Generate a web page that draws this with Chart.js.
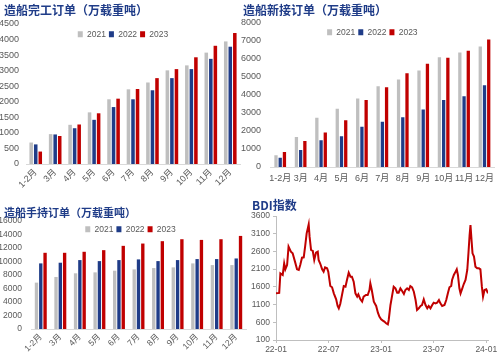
<!DOCTYPE html>
<html>
<head>
<meta charset="utf-8">
<script src="https://cdn.jsdelivr.net/npm/chart.js@4/dist/chart.umd.min.js"></script>
<style>
html,body{margin:0;padding:0;background:#fff;overflow:hidden;width:500px;height:356px;}
.box{position:absolute;}
.ttl{position:absolute;z-index:5;color:#1F3C88;font-family:"Noto Sans CJK SC",sans-serif;font-weight:700;white-space:nowrap;line-height:16px;}
</style>
</head>
<body>
<div class="ttl" style="left:4px;top:2px;font-size:12px;">造船完工订单（万载重吨）</div>
<div class="ttl" style="left:243px;top:2px;font-size:12px;">造船新接订单（万载重吨）</div>
<div class="ttl" style="left:4px;top:204px;font-size:11px;">造船手持订单（万载重吨）</div>
<div class="ttl" style="left:252px;top:197px;font-size:12px;">BDI指数</div>

<div class="box" style="left:0;top:0;width:250px;height:200px;"><canvas id="c1"></canvas></div>
<div class="box" style="left:236px;top:0;width:264px;height:200px;"><canvas id="c2"></canvas></div>
<div class="box" style="left:0;top:180px;width:250px;height:176px;"><canvas id="c3"></canvas></div>
<div class="box" style="left:250px;top:180px;width:250px;height:176px;"><canvas id="c4"></canvas></div>

<script>
// ---- data ----
const months = ['1-2月','3月','4月','5月','6月','7月','8月','9月','10月','11月','12月'];
const years = ['2021','2022','2023'];

const done2021 = [690, 960, 1260, 1660, 2080, 2400, 2620, 3010, 3170, 3580, 3940];
const done2022 = [630, 950, 1150, 1420, 1830, 2080, 2370, 2760, 3050, 3380, 3770];
const done2023 = [400, 900, 1270, 1630, 2100, 2410, 2760, 3050, 3430, 3800, 4210];

const new2021 = [650, 1660, 2740, 3240, 3800, 4480, 4860, 5360, 6100, 6360, 6700];
const new2022 = [520, 950, 1490, 1710, 2230, 2510, 2770, 3200, 3720, 3930, 4540];
const new2023 = [840, 1450, 1920, 2600, 3720, 4430, 5210, 5730, 6070, 6460, 7090];

const hold2021 = [6870, 7710, 8250, 8390, 8640, 8830, 9030, 9130, 9720, 9470, 9470];
const hold2022 = [9720, 9820, 10210, 10060, 10210, 10310, 10060, 10210, 10360, 10360, 10450];
const hold2023 = [11290, 11290, 11440, 11680, 12320, 12660, 13010, 13300, 13200, 13300, 13790];

const bdiDates = [
'2022-01-01','2022-01-12','2022-01-16','2022-01-24','2022-01-29','2022-02-03','2022-02-09','2022-02-14','2022-02-22','2022-02-28',
'2022-03-06','2022-03-13','2022-03-19','2022-03-24','2022-03-30','2022-04-06','2022-04-11','2022-04-16','2022-04-20','2022-04-23',
'2022-04-26','2022-05-01','2022-05-07','2022-05-12','2022-05-18','2022-05-24','2022-05-27','2022-06-03','2022-06-09','2022-06-14',
'2022-06-19','2022-06-26','2022-06-30','2022-07-07','2022-07-13','2022-07-19','2022-07-27','2022-08-02','2022-08-06','2022-08-11',
'2022-08-17','2022-08-23','2022-08-29','2022-09-04','2022-09-10','2022-09-16','2022-09-21','2022-09-27','2022-10-03','2022-10-09',
'2022-10-13','2022-10-20','2022-10-26','2022-11-01','2022-11-09','2022-11-15','2022-11-21','2022-11-24','2022-11-29','2022-12-06',
'2022-12-14','2022-12-20','2022-12-25','2023-01-01','2023-01-07','2023-01-12','2023-01-18','2023-01-24','2023-01-27','2023-02-03',
'2023-02-07','2023-02-14','2023-02-20','2023-02-26','2023-03-01','2023-03-07','2023-03-13','2023-03-19','2023-03-24','2023-03-30',
'2023-04-06','2023-04-11','2023-04-17','2023-04-23','2023-04-29','2023-05-04','2023-05-10','2023-05-16','2023-05-21','2023-05-27',
'2023-06-03','2023-06-09','2023-06-14','2023-06-20','2023-06-26','2023-07-01','2023-07-07','2023-07-13','2023-07-19','2023-07-24',
'2023-07-30','2023-08-08','2023-08-14','2023-08-20','2023-08-25','2023-09-01','2023-09-04','2023-09-10','2023-09-16','2023-09-20',
'2023-09-24','2023-09-29','2023-10-03','2023-10-09','2023-10-14','2023-10-20','2023-10-26','2023-10-30','2023-11-04','2023-11-07',
'2023-11-11','2023-11-14','2023-11-19','2023-11-24','2023-11-30','2023-12-06','2023-12-11','2023-12-16','2023-12-20','2023-12-25',
'2024-01-01','2024-01-07'];
const bdiValues = [
1417,1430,1980,1935,2260,2095,2217,2735,2594,2547,
2312,2095,2076,2217,2424,2433,2754,3111,3253,3365,
3017,2641,2613,2358,2566,2594,2358,2245,2095,2029,
2151,2123,2029,1624,1587,1417,1248,1060,994,1116,
1370,1624,1605,1794,2001,1888,1888,1747,1417,1323,
1389,1248,1182,1323,1370,1370,1511,1700,1511,1182,
1060,872,759,684,646,618,571,542,665,1088,
1276,1605,1558,1436,1436,1558,1483,1398,1511,1558,
1511,1624,1587,1464,1229,947,994,1060,1088,1248,
1088,994,1060,994,1088,1154,1135,1154,1229,1135,
1060,1088,1229,1436,1587,1624,1794,1935,2029,2095,
1935,1558,1417,1558,1680,1794,2076,2547,3064,3347,
2876,2547,2453,2170,2123,2123,2095,1605,1323,1511,
1530,1417];
const bdiTicks = [0, 6, 12, 18, 24];

// ---- styles ----
const FONT = '"Liberation Sans","Noto Sans CJK SC",sans-serif';
const TICK = '#595959';
const GRAY = '#BFBFBF', BLUE = '#1F3C88', RED = '#C00000';

// legend drawn inside the chart area, laid out horizontally
if (Chart.Legend && Chart.Legend._element) {
  const LP = Chart.Legend._element.prototype;
  const orig = LP.isHorizontal;
  LP.isHorizontal = function(){ return this.options.position === 'chartArea' ? true : orig.call(this); };
}
const legendShift = {
  id:'legendShift',
  afterLayout(chart, args, opts){
    const lg = chart.legend;
    if (!lg || !lg.options || lg.options.position !== 'chartArea') return;
    const dx = chart.chartArea.left + (opts.dx || 0);
    lg.left += dx; lg.right += dx;
    lg.top += (opts.dy || 0); lg.bottom += (opts.dy || 0);
  }
};

function monthOffset(s){
  const [y,m,d] = s.split('-').map(Number);
  return (y-2022)*12 + (m-1) + (d-1)/30;
}

function barChart(id, series, cfg){
  return new Chart(document.getElementById(id), {
    type:'bar',
    plugins:[legendShift],
    data:{
      labels: months,
      datasets: series.map((s,i)=>({
        label: years[i], data: s,
        backgroundColor:[GRAY,BLUE,RED][i],
        borderWidth:0,
        categoryPercentage: cfg.cat, barPercentage: 0.78
      }))
    },
    options:{
      responsive:true, maintainAspectRatio:false, animation:false,
      layout:{padding: cfg.pad},
      plugins:{
        legend:{position:'chartArea', align:'center',
          labels:{boxWidth:5, boxHeight:6, padding:3, color:TICK, font:{size:8.5, family:FONT}}},
        legendShift:{dx:cfg.ldx, dy:cfg.ldy},
        tooltip:{enabled:false}
      },
      scales:{
        x:{
          grid:{display:false, drawTicks:false},
          border:{display:true, color:'#D9D9D9'},
          ticks:{color:TICK, font:{size:cfg.fs, family:FONT}, autoSkip:false,
            minRotation:cfg.rot, maxRotation:cfg.rot, padding:cfg.xpad},
          afterFit: s => { s.height = cfg.xh; }
        },
        y:{
          min:0, max:cfg.max,
          grid:{display:false, drawTicks:false},
          border:{display:false},
          ticks:{stepSize:cfg.step, color:TICK, font:{size:cfg.fs, family:FONT}, padding:cfg.ypad,
            callback: v => String(v)},
          afterFit: s => { s.width = cfg.yw; }
        }
      }
    }
  });
}

barChart('c1', [done2021, done2022, done2023],
  {cat:0.7, pad:{top:24,left:0,right:10,bottom:6}, ldx:-10, ldy:3, fs:9, rot:45, xpad:3, xh:30, max:4500, step:500, ypad:7, yw:26});
barChart('c2', [new2021, new2022, new2023],
  {cat:0.62, pad:{top:23,left:0,right:0,bottom:13}, ldx:-10, ldy:2, fs:9, rot:0, xpad:6, xh:20, max:8000, step:1000, ypad:9, yw:34});
barChart('c3', [hold2021, hold2022, hold2023],
  {cat:0.66, pad:{top:41,left:0,right:4,bottom:1}, ldx:-8, ldy:1, fs:8.5, rot:45, xpad:3, xh:26, max:16000, step:2000, ypad:9, yw:31});

new Chart(document.getElementById('c4'), {
  type:'line',
  data:{
    datasets:[{
      label:'BDI',
      data: bdiDates.map((d,i)=>({x:monthOffset(d), y:bdiValues[i]})),
      borderColor:RED, borderWidth:2, pointRadius:0, tension:0, fill:false
    }]
  },
  options:{
    responsive:true, maintainAspectRatio:false, animation:false,
    layout:{padding:{top:36,left:0,right:12,bottom:0}},
    plugins:{legend:{display:false}, tooltip:{enabled:false}},
    scales:{
      x:{
        type:'linear', min:0, max:24.2,
        grid:{display:true, drawOnChartArea:false, drawTicks:true, tickLength:3, color:'#BFBFBF'},
        border:{display:true, color:'#BFBFBF'},
        afterBuildTicks: s => { s.ticks = bdiTicks.map(v=>({value:v})); },
        ticks:{color:TICK, font:{size:8.5, family:FONT}, padding:2, maxRotation:0,
          callback: v => { const y = 22 + Math.floor(v/12); const m = (v%12)+1; return y + '-' + String(m).padStart(2,'0'); }},
        afterFit: s => { s.height = 16; }
      },
      y:{
        min:100, max:3600,
        grid:{display:true, drawOnChartArea:false, drawTicks:true, tickLength:3, color:'#BFBFBF'},
        border:{display:true, color:'#BFBFBF'},
        ticks:{stepSize:500, color:TICK, font:{size:8.5, family:FONT}, padding:3, callback: v => String(v)},
        afterFit: s => { s.width = 26; }
      }
    }
  }
});
</script>
</body>
</html>
